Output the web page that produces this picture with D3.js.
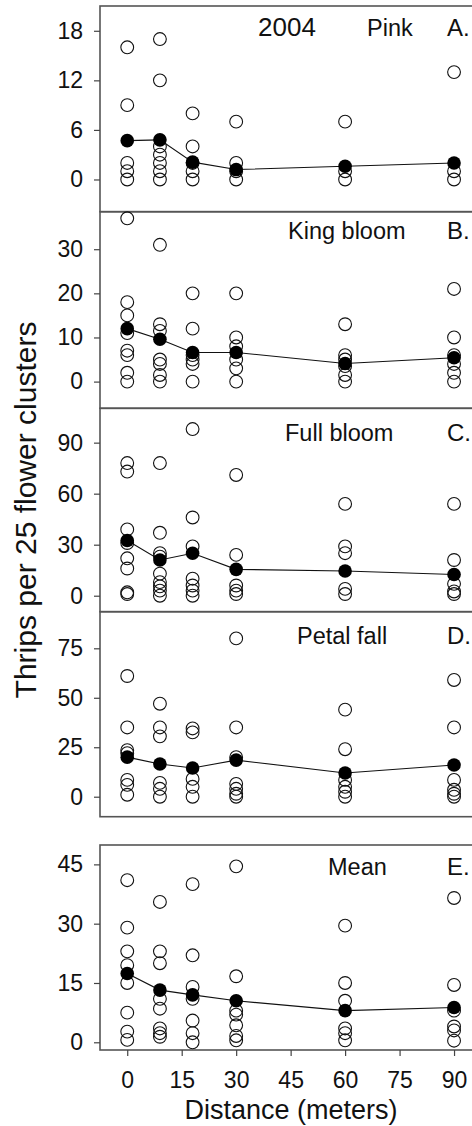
<!DOCTYPE html>
<html>
<head>
<meta charset="utf-8">
<script src="https://cdn.jsdelivr.net/npm/d3@7"></script>
<style>
  body { margin: 0; background: #fff; }
  text { font-family: "Liberation Sans", Arial, sans-serif; fill: #111; }
</style>
</head>
<body>
<div id="chart"></div>
<script>
// distances (m) where flower clusters were sampled
const distances = [0, 9, 18, 30, 60, 90];
const xTicks = [0, 15, 30, 45, 60, 75, 90];

// open circles = single samples, filled = mean per distance
const pinkObs = [[16, 9, 2, 1, 0], [17, 12, 4, 3, 2, 1, 0], [8, 4, 2, 1, 0], [7, 2, 1, 0], [7, 1, 0], [13, 1, 0]];
const pinkMean = [4.7, 4.8, 2.1, 1.2, 1.6, 2.0];
const pinkTicks = [0, 6, 12, 18];

const kingObs = [[37, 18, 15, 11, 7, 6, 2, 0], [31, 13, 11.5, 5, 4, 1.5, 0], [20, 12, 6, 5, 4, 0], [20, 10, 8, 5, 3, 0], [13, 6, 5, 3.5, 1.5, 0], [21, 10, 6, 4, 2, 0]];
const kingMean = [12, 9.6, 6.6, 6.6, 4.1, 5.4];
const kingTicks = [0, 10, 20, 30];

const fullObs = [[78, 73, 39, 31, 22, 16, 2, 1], [78, 37, 25, 23, 13, 8, 5.5, 3, 0], [98, 46, 29, 10, 6, 3, 0], [71, 24, 6, 3, 1], [54, 29, 25, 4, 1], [54, 21, 7, 2.5, 1]];
const fullMean = [32.5, 21, 25, 15.5, 14.5, 12.5];
const fullTicks = [0, 30, 60, 90];

const petalObs = [[61, 35, 23.5, 22, 8.5, 6, 1], [47, 35, 30.5, 7, 4, 0], [34.5, 32.5, 9, 5, 0], [80, 35, 20, 6.5, 4, 1.5, 0], [44, 24, 8.5, 5, 2.5, 0], [59, 35, 8.5, 3.5, 1.5, 0]];
const petalMean = [20, 16.5, 14.5, 18.5, 12, 16];
const petalTicks = [0, 25, 50, 75];

const meanObs = [[41, 29, 23, 19.5, 15, 7.5, 2.7, 0.6], [35.5, 23, 20, 11, 8.5, 3.5, 2.3, 1.4], [40, 22, 14, 11, 5.5, 2.3, 0], [44.5, 16.7, 8, 7, 4.3, 1.6, 0.5], [29.5, 15, 10.5, 3.5, 2.3, 0.5], [36.5, 14.5, 8, 4, 3, 0.4]];
const meanMean = [17.4, 13.2, 12, 10.5, 8, 8.8];
const meanTicks = [0, 15, 30, 45];

// panel frames (pixels) + y domains
const panels = [
  { name: 'Pink', letter: 'A.', obs: pinkObs, mean: pinkMean, ticks: pinkTicks, top: 6, bottom: 211.7, domain: [-3.9, 21.0], nameX: 367, baseY: 36 },
  { name: 'King bloom', letter: 'B.', obs: kingObs, mean: kingMean, ticks: kingTicks, top: 211.7, bottom: 408.3, domain: [-6.05, 38.5], nameX: 288, baseY: 239 },
  { name: 'Full bloom', letter: 'C.', obs: fullObs, mean: fullMean, ticks: fullTicks, top: 408.3, bottom: 611.7, domain: [-9.4, 110.2], nameX: 285, baseY: 441 },
  { name: 'Petal fall', letter: 'D.', obs: petalObs, mean: petalMean, ticks: petalTicks, top: 611.7, bottom: 816.7, domain: [-10.1, 93.5], nameX: 297, baseY: 644 },
  { name: 'Mean', letter: 'E.', obs: meanObs, mean: meanMean, ticks: meanTicks, top: 845, bottom: 1050, domain: [-1.95, 49.9], nameX: 328, baseY: 875 }
];

const width = 472, height = 1126;
const left = 100, right = 482;

const svg = d3.select('#chart').append('svg')
  .attr('width', width)
  .attr('height', height);

const x = d3.scaleLinear().domain([-7.5, 97.7]).range([left, right]);

panels.forEach((p, i) => {
  const y = d3.scaleLinear().domain(p.domain).range([p.bottom, p.top]);
  const g = svg.append('g');

  // frame
  g.append('rect')
    .attr('x', left).attr('y', p.top)
    .attr('width', right - left).attr('height', p.bottom - p.top)
    .attr('fill', 'none').attr('stroke', '#555').attr('stroke-width', 1.6);

  const yAxis = g.append('g')
    .attr('transform', `translate(${left},0)`)
    .call(d3.axisLeft(y).tickValues(p.ticks).tickSize(6).tickPadding(11));
  yAxis.select('.domain').remove();
  yAxis.selectAll('.tick line').attr('stroke', '#444').attr('stroke-width', 1.2);
  yAxis.selectAll('.tick text')
    .style('font-size', '23px')
    .style('font-family', '"Liberation Sans", Arial, sans-serif')
    .attr('fill', '#111');

  // open circles
  const pts = [];
  p.obs.forEach((vals, j) => vals.forEach(v => pts.push({ d: distances[j], v })));
  g.selectAll('circle.obs').data(pts).enter().append('circle')
    .attr('class', 'obs')
    .attr('cx', d => x(d.d))
    .attr('cy', d => y(d.v))
    .attr('r', 6.4)
    .attr('fill', 'none')
    .attr('stroke', '#111')
    .attr('stroke-width', 1.1);

  const means = p.mean.map((v, j) => ({ d: distances[j], v }));
  g.append('path')
    .datum(means)
    .attr('fill', 'none')
    .attr('stroke', '#111')
    .attr('stroke-width', 1.1)
    .attr('d', d3.line().x(d => x(d.d)).y(d => y(d.v)));

  g.selectAll('circle.mean').data(means).enter().append('circle')
    .attr('class', 'mean')
    .attr('cx', d => x(d.d))
    .attr('cy', d => y(d.v))
    .attr('r', 6.8)
    .attr('fill', '#000');

  g.append('text')
    .attr('x', p.nameX).attr('y', p.baseY)
    .style('font-size', '23.5px')
    .text(p.name);
  g.append('text')
    .attr('x', 447).attr('y', p.baseY)
    .style('font-size', '24px')
    .text(p.letter);

  if (i === 0) {
    g.append('text')
      .attr('x', 258).attr('y', 36)
      .style('font-size', '26px')
      .text('2004');
  }

  if (i === panels.length - 1) {
    const xAxis = g.append('g')
      .attr('transform', `translate(0,${p.bottom})`)
      .call(d3.axisBottom(x).tickValues(xTicks).tickSize(6).tickPadding(16));
    xAxis.select('.domain').remove();
    xAxis.selectAll('.tick line').attr('stroke', '#444').attr('stroke-width', 1.2);
    xAxis.selectAll('.tick text')
      .style('font-size', '23px')
      .style('font-family', '"Liberation Sans", Arial, sans-serif')
      .attr('fill', '#111');
  }
});

svg.append('text')
  .attr('transform', 'translate(36,510) rotate(-90)')
  .attr('text-anchor', 'middle')
  .style('font-size', '30px')
  .text('Thrips per 25 flower clusters');

svg.append('text')
  .attr('x', 291).attr('y', 1119)
  .attr('text-anchor', 'middle')
  .style('font-size', '27px')
  .text('Distance (meters)');
</script>
</body>
</html>
